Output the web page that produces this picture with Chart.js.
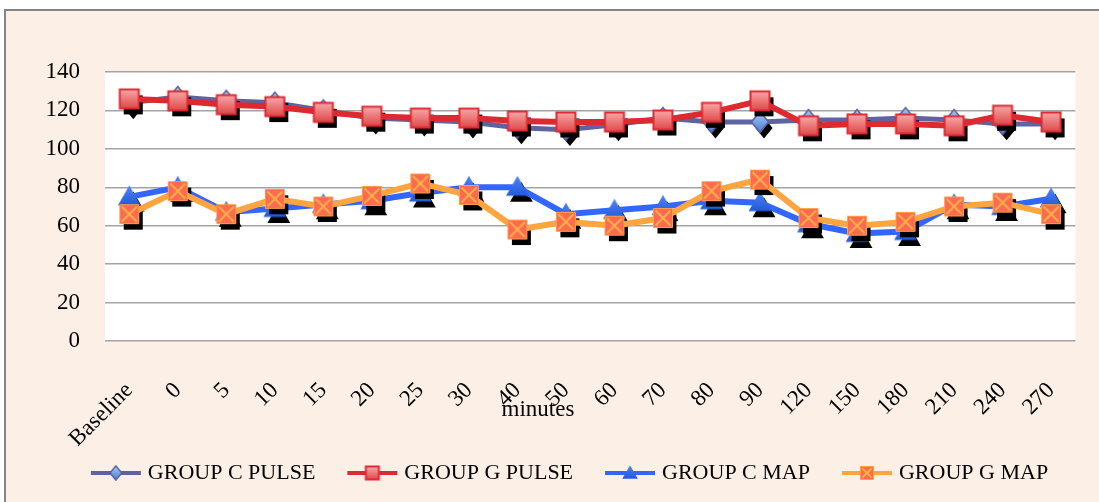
<!DOCTYPE html>
<html lang="en">
<head>
  <meta charset="UTF-8">
  <title>Pulse and MAP by group</title>
  <script src="https://cdn.jsdelivr.net/npm/chart.js"></script>
  <style>
    html, body {
      margin: 0;
      padding: 0;
      overflow: hidden;
      background: #fff;
    }
    .frame {
      position: absolute;
      left: 4px;
      top: 9px;
      width: 1200px;
      height: 600px;
      border-left: 2px solid #858585;
      border-top: 2px solid #858585;
      background: #fcefe6;
    }
    #chart {
      position: absolute;
      left: 0;
      top: 0;
    }
  </style>
</head>
<body>
  <div class="frame"></div>
  <canvas id="chart" width="1099" height="502"></canvas>

  <script>
    // categories and series
    const minutes = ['Baseline', '0', '5', '10', '15', '20', '25', '30', '40', '50',
                     '60', '70', '80', '90', '120', '150', '180', '210', '240', '270'];
    const groupCPulse = [124, 127, 125, 124, 120, 116, 115, 114, 111, 110, 112.5, 116, 114, 114, 115, 115, 116, 115, 113, 113];
    const groupGPulse = [126, 125, 123, 122, 119, 117, 116, 116, 114.5, 114, 114, 115, 119, 125, 112, 113, 113, 112, 117.5, 114];
    const groupCMap   = [75, 80, 67, 69, 71, 73, 77, 80, 80, 66, 68, 70, 73, 72, 61, 56, 57, 71, 70, 74];
    const groupGMap   = [66, 78, 66, 74, 70, 75.5, 82, 76, 58, 62, 60, 64, 78, 84, 64, 60, 62, 70, 72, 66];
    const yTicks = [0, 20, 40, 60, 80, 100, 120, 140];

    const serif = '"Liberation Serif", "Times New Roman", serif';

    // marker outline shapes
    function shapePath(c, kind, x, y, s) {
      c.beginPath();
      if (kind === 'diamond') {
        c.moveTo(x, y - s * 0.55);
        c.lineTo(x + s * 0.45, y);
        c.lineTo(x, y + s * 0.55);
        c.lineTo(x - s * 0.45, y);
      } else if (kind === 'triangle') {
        c.moveTo(x, y - s * 0.6);
        c.lineTo(x + s * 0.6, y + s * 0.45);
        c.lineTo(x - s * 0.6, y + s * 0.45);
      } else {
        c.rect(x - s / 2, y - s / 2, s, s);
      }
      c.closePath();
    }

    function drawMarker(c, kind, x, y, s) {
      let g;
      shapePath(c, kind, x, y, s);
      if (kind === 'diamond') {
        g = c.createLinearGradient(0, y - s / 2, 0, y + s / 2);
        g.addColorStop(0, '#a4c8f6');
        g.addColorStop(1, '#4d80d6');
        c.fillStyle = g;
        c.fill();
        c.strokeStyle = '#5b5f9f';
        c.lineWidth = 1.5;
        c.stroke();
      } else if (kind === 'square') {
        g = c.createLinearGradient(0, y - s / 2, 0, y + s / 2);
        g.addColorStop(0, '#f7a8a8');
        g.addColorStop(1, '#e04848');
        c.fillStyle = g;
        c.fill();
        c.strokeStyle = '#e02a35';
        c.lineWidth = 2;
        c.stroke();
      } else if (kind === 'triangle') {
        g = c.createLinearGradient(0, y - s / 2, 0, y + s / 2);
        g.addColorStop(0, '#4a80f2');
        g.addColorStop(1, '#1f58d8');
        c.fillStyle = g;
        c.fill();
      } else {
        c.fillStyle = '#ff6a50';
        c.fill();
        c.strokeStyle = '#ffa048';
        c.lineWidth = 1;
        c.stroke();
        const h = s / 2 - 2;
        c.beginPath();
        c.moveTo(x - h, y - h); c.lineTo(x + h, y + h);
        c.moveTo(x + h, y - h); c.lineTo(x - h, y + h);
        c.strokeStyle = '#ffb24a';
        c.lineWidth = 2;
        c.stroke();
      }
    }

    function markerImage(kind, s) {
      const cv = document.createElement('canvas');
      cv.width = 32; cv.height = 32;
      drawMarker(cv.getContext('2d'), kind, 16, 16, s);
      return cv;
    }

    // legend swatch: line with marker, leaves blank space on the left as item gap
    function legendImage(kind, color) {
      const cv = document.createElement('canvas');
      cv.width = 90; cv.height = 24;
      const c = cv.getContext('2d');
      c.beginPath();
      c.moveTo(38, 12); c.lineTo(88, 12);
      c.strokeStyle = color;
      c.lineWidth = 4;
      c.stroke();
      drawMarker(c, kind, 63, 12, 13);
      return cv;
    }

    const shapes = ['diamond', 'square', 'triangle', 'xsquare'];
    const colors = ['#5f63a2', '#dd2a30', '#3366ff', '#ffa540'];

    function series(label, data, i, width) {
      return {
        label: label,
        data: data,
        borderColor: colors[i],
        backgroundColor: colors[i],
        borderWidth: width,
        tension: 0,
        pointStyle: markerImage(shapes[i], 19),
        pointRadius: 9,
        pointHoverRadius: 9,
        order: 4 - i
      };
    }

    const plotBackground = {
      id: 'plotBackground',
      beforeDraw(chart) {
        const a = chart.chartArea;
        chart.ctx.save();
        chart.ctx.fillStyle = '#ffffff';
        chart.ctx.fillRect(a.left, a.top, a.right - a.left, a.bottom - a.top);
        chart.ctx.restore();
      }
    };

    // black drop shadow under each marker, drawn before the series itself
    const markerShadow = {
      id: 'markerShadow',
      beforeDatasetDraw(chart, args) {
        const c = chart.ctx;
        c.save();
        c.fillStyle = '#000';
        args.meta.data.forEach(pt => {
          shapePath(c, shapes[args.index], pt.x + 4, pt.y + 6, 19);
          c.fill();
        });
        c.restore();
      }
    };

    const axisTitle = {
      id: 'axisTitle',
      afterDraw(chart) {
        const c = chart.ctx;
        c.save();
        c.font = '23px ' + serif;
        c.fillStyle = '#000';
        c.textAlign = 'center';
        c.textBaseline = 'middle';
        c.fillText('minutes', 538, 410);
        c.restore();
      }
    };

    new Chart(document.getElementById('chart'), {
      type: 'line',
      data: {
        labels: minutes,
        datasets: [
          series('GROUP C PULSE', groupCPulse, 0, 5),
          series('GROUP G PULSE', groupGPulse, 1, 6),
          series('GROUP C MAP', groupCMap, 2, 6),
          series('GROUP G MAP', groupGMap, 3, 6)
        ]
      },
      options: {
        responsive: false,
        animation: false,
        layout: { padding: { top: 72, left: 20, right: 12, bottom: 8 } },
        plugins: {
          tooltip: { enabled: false },
          legend: {
            position: 'bottom',
            labels: {
              usePointStyle: true,
              pointStyleWidth: 78,
              padding: 0,
              color: '#000',
              font: { family: serif, size: 22 },
              generateLabels: chart => chart.data.datasets.map((d, i) => ({
                text: d.label,
                pointStyle: legendImage(shapes[i], colors[i]),
                datasetIndex: i,
                hidden: false,
                lineWidth: 0,
                strokeStyle: 'transparent',
                fillStyle: 'transparent'
              }))
            }
          }
        },
        scales: {
          x: {
            offset: true,
            grid: { display: false },
            border: { display: false },
            ticks: {
              color: '#000',
              font: { family: serif, size: 23 },
              minRotation: 45,
              maxRotation: 45,
              autoSkip: false,
              padding: 28
            },
            afterFit: s => { s.height = 121; }
          },
          y: {
            min: 0,
            max: 140,
            afterBuildTicks: s => { s.ticks = yTicks.map(v => ({ value: v })); },
            grid: { color: '#a3a3a3', lineWidth: 1.5, drawTicks: false },
            border: { display: false },
            ticks: {
              color: '#000',
              font: { family: serif, size: 23 },
              padding: 25
            },
            afterFit: s => { s.width = 85; }
          }
        }
      },
      plugins: [plotBackground, markerShadow, axisTitle]
    });
  </script>
</body>
</html>
